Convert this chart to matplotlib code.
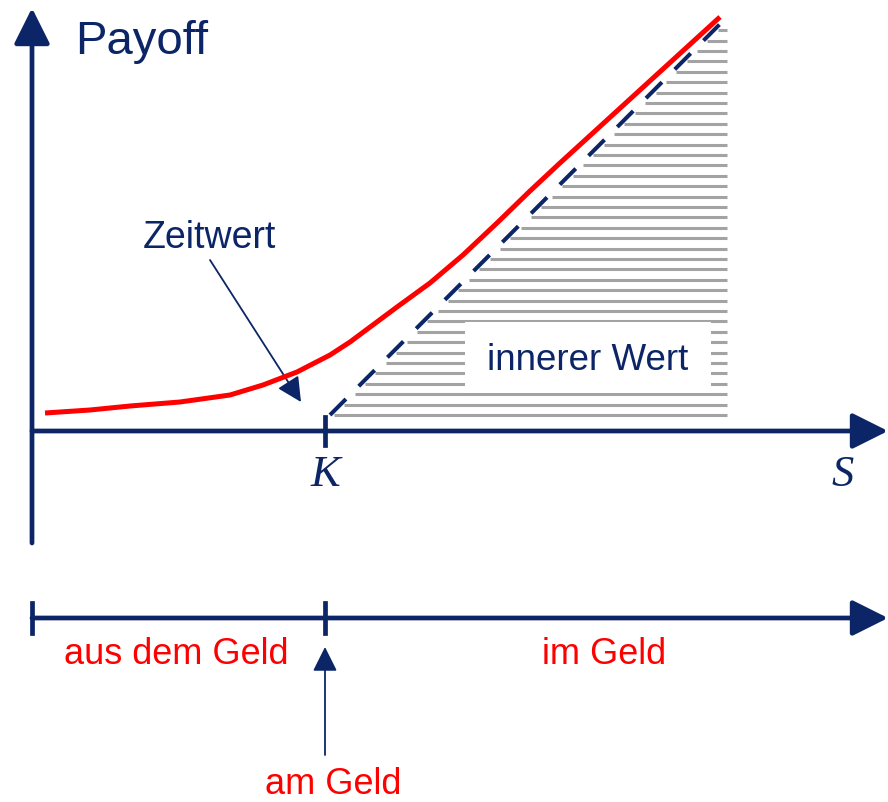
import numpy as np
import matplotlib
matplotlib.use("Agg")
import matplotlib.pyplot as plt
from matplotlib.patches import Rectangle

# colours
NAVY = "#0b2566"
RED = "#ff0000"
GREY = "#a3a3a3"

# data, x in pixel-like units, payoff above the S axis
x_origin = 32
strike = 325
x_end = 888
payoff_top = 423
axis_bottom = -112

# option value (Zeitwert + innerer Wert), red curve
curve_x = [45, 90, 130, 180, 230, 263, 297, 330, 350, 397, 430, 463, 497, 530, 560, 640, 720]
curve_y = [18, 21, 25, 29, 36, 46, 59, 76, 89, 124, 148, 176, 208, 240, 268, 341, 414]

# intrinsic value, dashed line
intr_x = [330, 722]
intr_y = [16, 409]
hatch_right = 727

# second axis (moneyness)
money_y = -187
money_ticks = [x_origin, strike]
money_labels = ["aus dem Geld", "im Geld", "am Geld"]

fig = plt.figure(figsize=(8.88, 8.02), dpi=100)
ax = fig.add_axes([0, 0, 1, 1])
ax.set_xlim(0, 888)
ax.set_ylim(431 - 802, 431)
ax.axis("off")

# hatched region under the intrinsic value line
slope = (intr_x[1] - intr_x[0]) / (intr_y[1] - intr_y[0])
for lvl in np.arange(16, 410, 10.4):
    xl = intr_x[0] + (lvl - intr_y[0]) * slope
    ax.plot([xl + 4, hatch_right], [lvl, lvl], color=GREY, lw=2.2, zorder=1,
            solid_capstyle="butt")
ax.add_patch(Rectangle((465, 38), 246, 71, facecolor="white", edgecolor="none", zorder=2))
ax.text(588, 70, "innerer Wert", color=NAVY, fontsize=26.5, family="Liberation Sans",
        ha="center", va="center", zorder=3)

# dashed intrinsic value line
ax.plot(intr_x, intr_y, color=NAVY, lw=2.9, dashes=(5.6, 4.5), zorder=4)

# red curve
ax.plot(curve_x, curve_y, color=RED, lw=3.6, zorder=5, solid_capstyle="butt",
        solid_joinstyle="round")

# axes
arrow_kw = dict(arrowstyle="-|>,head_length=1.0,head_width=0.5", lw=3.4, color=NAVY,
                mutation_scale=22, shrinkA=0, shrinkB=0)
thin_kw = dict(arrowstyle="-|>,head_length=1.0,head_width=0.5", lw=1.3, color=NAVY,
               mutation_scale=15, shrinkA=0, shrinkB=0)
ax.annotate("", xy=(x_origin, payoff_top), xytext=(x_origin, axis_bottom), arrowprops=arrow_kw, zorder=6)
ax.annotate("", xy=(x_end, 0), xytext=(x_origin, 0), arrowprops=arrow_kw, zorder=6)
ax.plot([strike, strike], [-14, 14], color=NAVY, lw=3.4, zorder=6)

ax.text(strike, -44, "K", fontsize=32, family="Liberation Serif", style="italic",
        color=NAVY, ha="center", va="center")
ax.text(843, -44, "S", fontsize=32, family="Liberation Serif", style="italic",
        color=NAVY, ha="center", va="center")
ax.text(75, 389, "Payoff", fontsize=34, family="Liberation Sans", color=NAVY,
        ha="left", va="center")

# Zeitwert annotation
ax.text(209, 193, "Zeitwert", fontsize=27, family="Liberation Sans", color=NAVY,
        ha="center", va="center")
ax.annotate("", xy=(301, 29), xytext=(210, 171), arrowprops=thin_kw)

# moneyness axis
ax.annotate("", xy=(x_end, money_y), xytext=(x_origin, money_y), arrowprops=arrow_kw, zorder=6)
for t in money_ticks:
    ax.plot([t, t], [money_y - 15, money_y + 15], color=NAVY, lw=3.4)
ax.text(176, money_y - 36, money_labels[0], fontsize=26, family="Liberation Sans",
        color=RED, ha="center", va="center")
ax.text(604, money_y - 36, money_labels[1], fontsize=26, family="Liberation Sans",
        color=RED, ha="center", va="center")
ax.text(333, money_y - 167, money_labels[2], fontsize=26, family="Liberation Sans",
        color=RED, ha="center", va="center")
ax.annotate("", xy=(strike, money_y - 29), xytext=(strike, money_y - 137), arrowprops=thin_kw)

fig.savefig("out.png", dpi=100)
